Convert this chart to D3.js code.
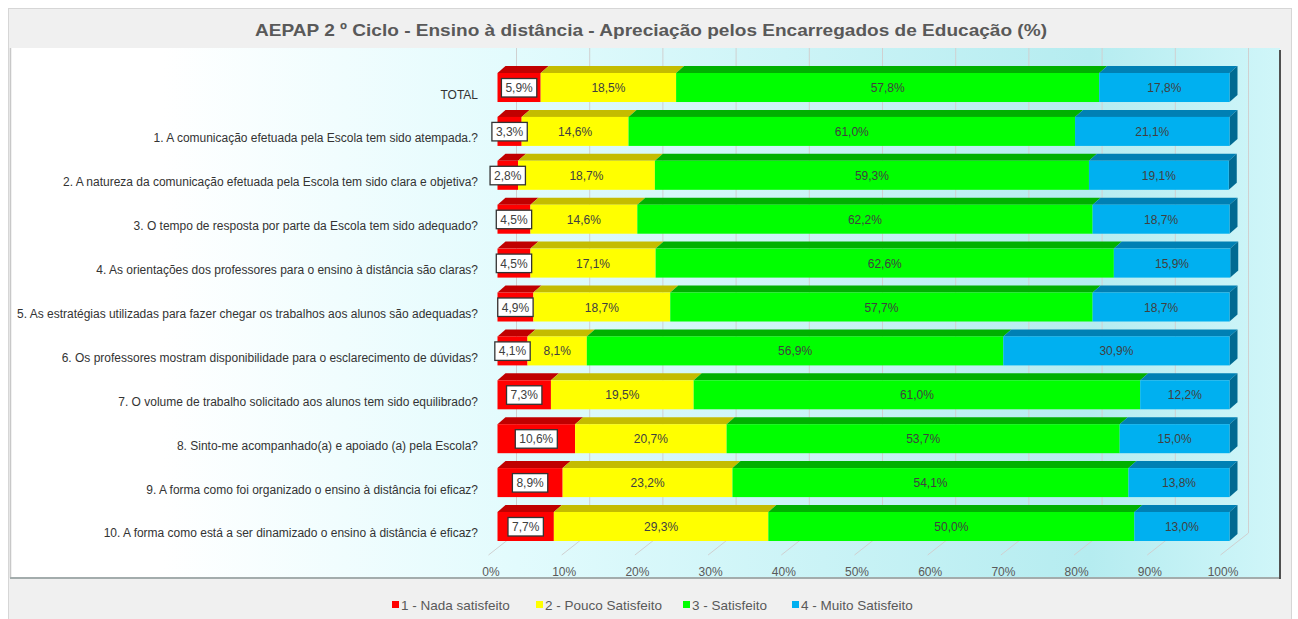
<!DOCTYPE html>
<html>
<head>
<meta charset="utf-8">
<script src="https://cdn.jsdelivr.net/npm/d3@7"></script>
<style>
  html, body { margin: 0; padding: 0; background: #ffffff; }
  svg { display: block; }
  text { font-family: "Liberation Sans", Arial, sans-serif; }
</style>
</head>
<body>
<svg id="chart" width="1298" height="619"></svg>
<script>
const title = "AEPAP  2 º Ciclo - Ensino à distância - Apreciação pelos Encarregados de Educação (%)";
const categories = [
  "TOTAL",
  "1. A comunicação efetuada pela Escola tem sido atempada.?",
  "2. A natureza da comunicação efetuada pela Escola tem sido clara e objetiva?",
  "3. O tempo de resposta por parte da Escola tem sido adequado?",
  "4. As orientações dos professores para o ensino à distância são claras?",
  "5. As estratégias utilizadas para fazer chegar os trabalhos aos alunos são adequadas?",
  "6. Os professores mostram disponibilidade para o esclarecimento de dúvidas?",
  "7. O volume de trabalho solicitado aos alunos tem sido equilibrado?",
  "8. Sinto-me acompanhado(a) e apoiado (a) pela Escola?",
  "9. A forma como foi organizado o ensino à distância foi eficaz?",
  "10. A forma como está a ser dinamizado o ensino à distância é eficaz?"
];
const seriesNames = ["1 - Nada satisfeito", "2 - Pouco Satisfeito", "3 - Satisfeito", "4 - Muito Satisfeito"];
const nadaSatisfeito   = [5.9, 3.3, 2.8, 4.5, 4.5, 4.9, 4.1, 7.3, 10.6, 8.9, 7.7];
const poucoSatisfeito  = [18.5, 14.6, 18.7, 14.6, 17.1, 18.7, 8.1, 19.5, 20.7, 23.2, 29.3];
const satisfeito       = [57.8, 61.0, 59.3, 62.2, 62.6, 57.7, 56.9, 61.0, 53.7, 54.1, 50.0];
const muitoSatisfeito  = [17.8, 21.1, 19.1, 18.7, 15.9, 18.7, 30.9, 12.2, 15.0, 13.8, 13.0];
const tickValues = [0, 10, 20, 30, 40, 50, 60, 70, 80, 90, 100];

const frontColors = ["#ff0000", "#ffff00", "#00ff00", "#00b0f0"];
const topColors   = ["#c00000", "#c4bc00", "#00b000", "#0080b4"];
const sideColors  = ["#a00000", "#a09a00", "#009000", "#006a92"];

const svg = d3.select("#chart");
const defs = svg.append("defs");
const grad = defs.append("linearGradient").attr("id", "bg").attr("x1", "0").attr("x2", "1").attr("y1", "0").attr("y2", "0");
grad.append("stop").attr("offset", "0%").attr("stop-color", "#ffffff");
grad.append("stop").attr("offset", "12%").attr("stop-color", "#ffffff");
grad.append("stop").attr("offset", "40%").attr("stop-color", "#e2fbfd");
grad.append("stop").attr("offset", "85%").attr("stop-color", "#b5ecf0");
grad.append("stop").attr("offset", "100%").attr("stop-color", "#d0f6f9");

// outer panel
svg.append("rect").attr("x", 8.5).attr("y", 8.5).attr("width", 1283).attr("height", 615)
  .attr("fill", "#f0f0f0").attr("stroke", "#d6d6d6");

// plot area
const plot = {x0: 10, y0: 48, x1: 1280, y1: 578};
svg.append("rect").attr("x", plot.x0).attr("y", plot.y0).attr("width", plot.x1 - plot.x0).attr("height", plot.y1 - plot.y0)
  .attr("fill", "url(#bg)");
svg.append("line").attr("x1", plot.x0 + 0.5).attr("x2", plot.x0 + 0.5).attr("y1", plot.y0).attr("y2", plot.y1)
  .attr("stroke", "#c8c8c8").attr("stroke-width", 1.5);
svg.append("line").attr("x1", plot.x0).attr("x2", plot.x1).attr("y1", plot.y1).attr("y2", plot.y1)
  .attr("stroke", "#a3acac").attr("stroke-width", 2);
svg.append("line").attr("x1", plot.x1).attr("x2", plot.x1).attr("y1", plot.y0 + 2).attr("y2", plot.y1 + 1)
  .attr("stroke", "#505050").attr("stroke-width", 2);

// title
const titleText = svg.append("text").attr("x", 651).attr("y", 36).attr("text-anchor", "middle")
  .attr("font-size", "17px").attr("font-weight", "bold").attr("fill", "#595959").text(title);
titleText.attr("textLength", 792).attr("lengthAdjust", "spacingAndGlyphs");

// scales
const x = d3.scaleLinear().domain([0, 100]).range([497.5, 1229.5]);
const y = d3.scaleBand().domain(categories).range([73, 541]).paddingInner(0.339).paddingOuter(0);
const dx = 8, dy = -7;
const backDx = 19, floorFrontDx = -9, floorFrontY = 555, floorBackY = 533;

// gridlines (back wall + floor)
const grid = svg.append("g");
tickValues.forEach(v => {
  const xb = x(v) + backDx;
  grid.append("path")
    .attr("d", `M${xb},${plot.y0} L${xb},${floorBackY} L${x(v) + floorFrontDx},${floorFrontY}`)
    .attr("fill", "none").attr("stroke", "#d0d0d0").attr("stroke-width", 1);
});

// axis tick labels via d3 axis
const axis = d3.axisBottom(x).tickValues(tickValues).tickFormat(d => d + "%").tickSize(0).tickPadding(0);
const axG = svg.append("g").attr("transform", `translate(-7, ${floorFrontY + 12})`).call(axis);
axG.select(".domain").remove();
axG.selectAll("text").attr("font-size", "12px").attr("fill", "#595959")
  .attr("font-family", "'Liberation Sans', Arial, sans-serif");

// stacked data
const rows = categories.map((c, i) => ({
  cat: c, vals: [nadaSatisfeito[i], poucoSatisfeito[i], satisfeito[i], muitoSatisfeito[i]]
}));
const fmt = v => v.toFixed(1).replace(".", ",") + "%";

const bars = svg.append("g");
rows.forEach(r => {
  const y0 = y(r.cat), h = y.bandwidth(), y1 = y0 + h;
  let cum = 0;
  const segs = r.vals.map((v, k) => { const s = {k, v, a: cum, b: cum + v}; cum += v; return s; });
  const g = bars.append("g");
  segs.forEach(s => {
    const xa = x(s.a), xb = x(s.b);
    g.append("path").attr("d", `M${xa},${y0} L${xa + dx},${y0 + dy} L${xb + dx},${y0 + dy} L${xb},${y0} Z`)
      .attr("fill", topColors[s.k]);
    if (s.k === segs.length - 1) {
      g.append("path").attr("d", `M${xb},${y0} L${xb + dx},${y0 + dy} L${xb + dx},${y1 + dy} L${xb},${y1} Z`)
        .attr("fill", sideColors[s.k]);
    }
    g.append("rect").attr("x", xa).attr("y", y0).attr("width", xb - xa).attr("height", h)
      .attr("fill", frontColors[s.k]);
  });
  segs.forEach(s => {
    const cx = (x(s.a) + x(s.b)) / 2, cy = y0 + h / 2;
    const t = g.append("text").attr("x", cx).attr("y", cy + 4.5).attr("text-anchor", "middle")
      .attr("font-size", "12px").attr("fill", "#404040").text(fmt(s.v));
    if (s.k === 0) {
      const w = t.node().getComputedTextLength();
      g.append("rect")
        .attr("x", cx - w / 2 - 4).attr("y", cy - 9).attr("width", w + 8).attr("height", 18.5)
        .attr("fill", "#ffffff").attr("stroke", "#333333").attr("stroke-width", 1.3);
      t.raise();
    }
  });
});

// category labels
const catG = svg.append("g");
const catTexts = catG.selectAll("text").data(categories).join("text")
  .attr("x", 478).attr("y", d => y(d) + y.bandwidth() / 2 + 11)
  .attr("text-anchor", "end").attr("font-size", "12.5px").attr("fill", "#333333").text(d => d);
{
  const ref = catTexts.filter((d, i) => i === 2).node().getComputedTextLength();
  const k = 415 / ref;
  catTexts.each(function() {
    const w = this.getComputedTextLength();
    d3.select(this).attr("textLength", w * k).attr("lengthAdjust", "spacingAndGlyphs");
  });
}

// legend
const legendX = [392, 536, 683, 792];
const lg = svg.append("g");
seriesNames.forEach((n, k) => {
  lg.append("rect").attr("x", legendX[k]).attr("y", 601).attr("width", 7).attr("height", 7).attr("fill", frontColors[k]);
  lg.append("text").attr("x", legendX[k] + 9).attr("y", 609.5).attr("font-size", "13.5px").attr("fill", "#595959").text(n);
});
</script>
</body>
</html>
